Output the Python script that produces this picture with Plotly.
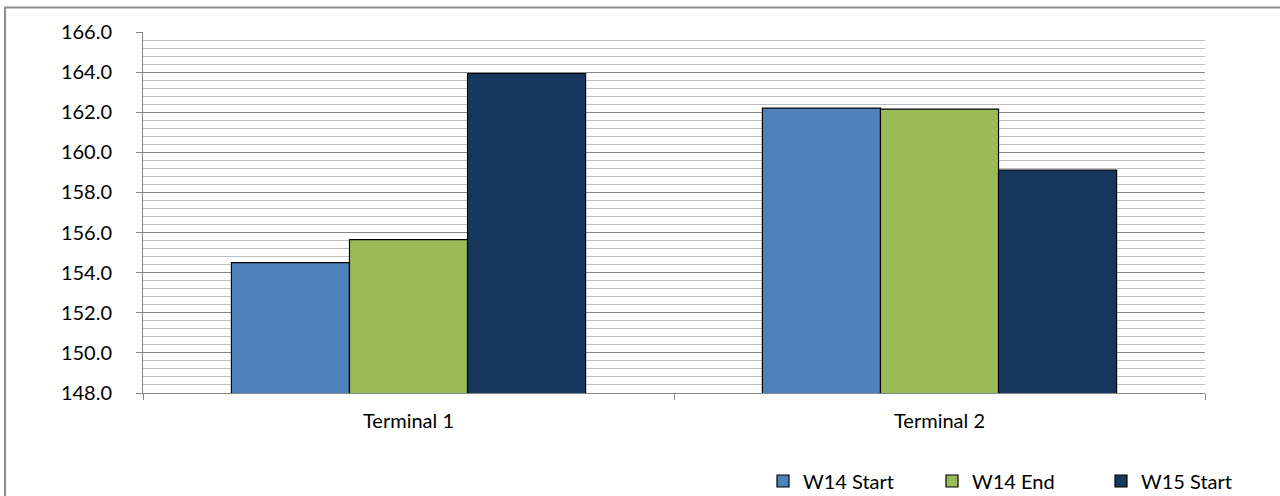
import plotly.graph_objects as go

# Chart data
categories = ["Terminal 1", "Terminal 2"]
series_names = ["W14 Start", "W14 End", "W15 Start"]
w14_start = [154.5, 162.2]
w14_end = [155.65, 162.15]
w15_start = [163.93, 159.12]
y_tick_values = [148, 150, 152, 154, 156, 158, 160, 162, 164, 166]
y_tick_labels = ["148.0", "150.0", "152.0", "154.0", "156.0", "158.0", "160.0", "162.0", "164.0", "166.0"]

colors = ["#4F81BD", "#9BBB59", "#17375E"]
FONT = "Lato"

W, H = 1280, 496
ML, MR, MT, MB = 143, 75, 32, 103
PW, PH = W - ML - MR, H - MT - MB

fig = go.Figure()
for name, vals, col in zip(series_names, [w14_start, w14_end, w15_start], colors):
    fig.add_trace(go.Bar(
        x=categories, y=vals, name=name,
        marker=dict(color=col, line=dict(color="#000000", width=1.2)),
    ))


def px_x(p):
    return (p - ML) / PW


def px_y(p):
    return (H - MB - p) / PH


fig.update_layout(
    width=W, height=H,
    margin=dict(l=ML, r=MR, t=MT, b=MB, pad=0, autoexpand=False),
    paper_bgcolor="white", plot_bgcolor="white",
    barmode="group", bargap=0.333, bargroupgap=0,
    font=dict(family=FONT, size=20, color="#000000"),
    showlegend=True,
    legend=dict(
        orientation="h",
        xref="container", yref="container",
        x=763 / W, xanchor="left", y=(H - 481) / H, yanchor="middle",
        font=dict(family=FONT, size=20, color="#000000"),
        entrywidth=124, entrywidthmode="pixels",
        bgcolor="rgba(0,0,0,0)", traceorder="normal",
    ),
    xaxis=dict(
        automargin=False,
        showline=True, linecolor="#868686", linewidth=1,
        ticks="outside", tickson="boundaries", ticklen=6, tickcolor="#868686",
        showgrid=False, tickfont=dict(family=FONT, size=20),
        ticklabelstandoff=10,
    ),
    yaxis=dict(
        automargin=False,
        range=[148, 166], tickvals=y_tick_values, ticktext=y_tick_labels,
        showline=True, linecolor="#868686", linewidth=1,
        ticks="outside", ticklen=6, tickcolor="#868686",
        showgrid=True, gridcolor="#868686", gridwidth=1,
        minor=dict(tick0=148, dtick=0.4, showgrid=True, gridcolor="#bfbfbf", gridwidth=1, ticks=""),
        zeroline=False, ticklabelstandoff=20,
        tickfont=dict(family=FONT, size=20),
    ),
    shapes=[
        dict(type="rect", xref="paper", yref="paper",
             x0=px_x(5), x1=px_x(1300), y0=px_y(7.5), y1=px_y(520),
             line=dict(color="#8c8c8c", width=2), fillcolor="rgba(0,0,0,0)", layer="below"),
    ],
)

fig.write_html("out.html")
